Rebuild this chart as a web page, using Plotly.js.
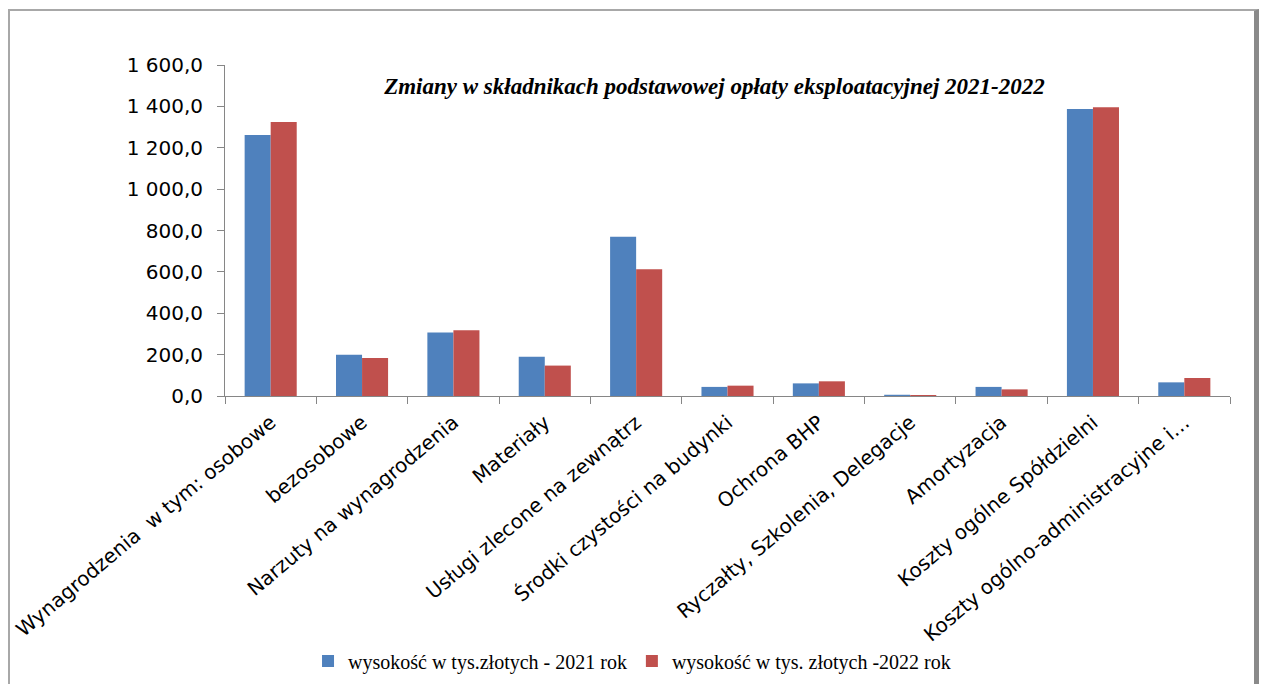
<!DOCTYPE html>
<html>
<head>
<meta charset="utf-8">
<script src="https://cdn.plot.ly/plotly-3.0.1.min.js"></script>
<style>
  html, body { margin:0; padding:0; background:#fff; }
  #chart { width:1261px; height:684px; position:absolute; left:0; top:0; }
  #frame { position:absolute; left:8px; top:9px; width:1244px; height:700px;
           border-top:2px solid #a8a8a8; border-left:2px solid #a8a8a8;
           border-right:5px solid #8a8a8a; pointer-events:none; }
</style>
</head>
<body>
<div id="chart"></div>
<div id="frame"></div>
<script>
const categories = [
  "Wynagrodzenia  w tym: osobowe",
  "bezosobowe",
  "Narzuty na wynagrodzenia",
  "Materiały",
  "Usługi zlecone na zewnątrz",
  "Środki czystości na budynki",
  "Ochrona BHP",
  "Ryczałty, Szkolenia, Delegacje",
  "Amortyzacja",
  "Koszty ogólne Spółdzielni",
  "Koszty ogólno-administracyjne i…"
];
const values2021 = [1262, 200, 307, 190, 770, 44, 61, 6, 44, 1387, 66];
const values2022 = [1324, 184, 318, 147, 613, 50, 71, 5, 32, 1396, 87];
const seriesNames = ["wysokość w tys.złotych - 2021 rok", "wysokość w tys. złotych -2022 rok"];
const chartTitle = "Zmiany w składnikach podstawowej opłaty eksploatacyjnej 2021-2022";
const yTicks = [0, 200, 400, 600, 800, 1000, 1200, 1400, 1600];

const traces = [
  { type:'bar', x:categories, y:values2021, name:seriesNames[0],
    marker:{color:'#4F81BD'} },
  { type:'bar', x:categories, y:values2022, name:seriesNames[1],
    marker:{color:'#C0504D'} }
];

const layout = {
  width:1261, height:684,
  margin:{l:225, r:31, t:65, b:288},
  paper_bgcolor:'rgba(0,0,0,0)', plot_bgcolor:'rgba(0,0,0,0)',
  separators:', ',
  barmode:'group', bargap:0.43, bargroupgap:0,
  font:{family:'DejaVu Sans, sans-serif', color:'#000'},
  title:{text:chartTitle, x:0.487, xref:'paper', xanchor:'center',
         y:1 - 86/684, yref:'container', yanchor:'middle',
         font:{family:'Liberation Serif, serif', size:23, weight:'bold', style:'italic', color:'#000'}},
  xaxis:{type:'category', tickangle:-40, tickson:'boundaries', ticks:'outside', ticklen:7,
         tickcolor:'#868686', showline:true, linecolor:'#868686', linewidth:1,
         tickfont:{family:'DejaVu Sans, sans-serif', size:20, color:'#000'},
         ticklabelstandoff:6,
         showgrid:false, zeroline:false, automargin:false},
  yaxis:{range:[0,1600], tickvals:yTicks, tickformat:',.1f', ticks:'outside', ticklen:7,
         tickcolor:'#868686', showline:true, linecolor:'#868686', linewidth:1,
         tickfont:{family:'DejaVu Sans, sans-serif', size:20, color:'#000'},
         ticklabelstandoff:10, showgrid:false, zeroline:false, automargin:false},
  legend:{orientation:'h', x:0.405, xanchor:'center', xref:'paper',
          y:1 - 661/684, yanchor:'middle', yref:'container',
          font:{family:'Liberation Serif, serif', size:20, color:'#000'},
          itemwidth:30, traceorder:'normal'},
  showlegend:true
};

Plotly.newPlot('chart', traces, layout, {displayModeBar:false, staticPlot:true});
</script>
</body>
</html>
